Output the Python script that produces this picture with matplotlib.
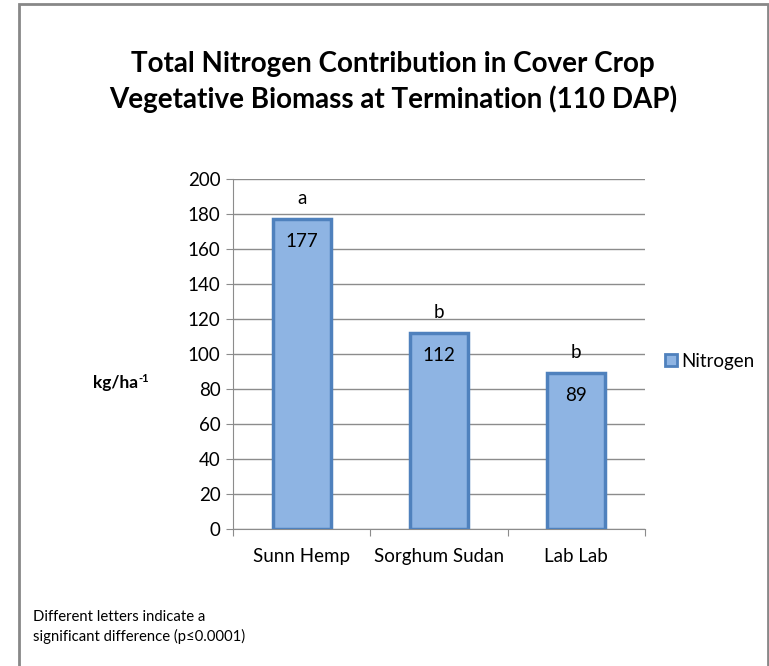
import matplotlib
matplotlib.use("Agg")
import matplotlib.pyplot as plt
from matplotlib.patches import Rectangle
from matplotlib.lines import Line2D

categories = ["Sunn Hemp", "Sorghum Sudan", "Lab Lab"]
nitrogen = [177, 112, 89]
letters = ["a", "b", "b"]
yticks = [0, 20, 40, 60, 80, 100, 120, 140, 160, 180, 200]

plt.rcParams['font.family'] = ['Lato', 'DejaVu Sans']

W, H = 769, 666
fig = plt.figure(figsize=(W/100, H/100), dpi=100)

# outer border
fig.add_artist(Rectangle((18.5/W, -0.01), (767.5-18.5)/W, (H-3.5)/H + 0.01,
                         transform=fig.transFigure, fill=False,
                         edgecolor='#888888', linewidth=2))

FS = 13.5
ax = fig.add_axes([233/W, 1-529/H, (645-233)/W, (529-179)/H])
x = list(range(len(categories)))
bars = ax.bar(x, nitrogen, width=0.42, color='#8EB4E3', edgecolor='#4F81BD',
              linewidth=2.5, zorder=3, label='Nitrogen')
ax.set_xlim(-0.5, 2.5)
ax.set_ylim(0, 200)
ax.set_yticks(yticks)
ax.set_yticklabels([str(v) for v in yticks], fontsize=FS)
ax.yaxis.grid(True, color='#8c8c8c', linewidth=1, zorder=0)
ax.set_axisbelow(True)
for s in ['top', 'right']:
    ax.spines[s].set_visible(False)
ax.spines['left'].set_color('#8c8c8c')
ax.spines['bottom'].set_color('#8c8c8c')
ax.tick_params(axis='y', length=5, color='#8c8c8c', pad=4)
ax.set_xticks([-0.5, 0.5, 1.5, 2.5])
ax.set_xticklabels([])
ax.set_xticks(x, minor=True)
ax.set_xticklabels(categories, minor=True, fontsize=FS)
ax.tick_params(axis='x', which='major', length=5, color='#8c8c8c')
ax.tick_params(axis='x', which='minor', length=0, pad=14)

for xi, v, l in zip(x, nitrogen, letters):
    ax.annotate(str(v), (xi, v), xytext=(0, -16), textcoords='offset points',
                ha='center', va='center', fontsize=FS)
    ax.annotate(l, (xi, v), xytext=(0, 15), textcoords='offset points',
                ha='center', va='center', fontsize=FS)

fig.text(393/W, 1-82/H, "Total Nitrogen Contribution in Cover Crop\nVegetative Biomass at Termination (110 DAP)",
         ha='center', va='center', fontsize=20, fontweight='bold', linespacing=1.35)

fig.text(93/W, 1-383/H, "kg/ha", ha='left', va='center', fontsize=12.5, fontweight='bold')
fig.text(138/W, 1-378/H, "-1", ha='left', va='center', fontsize=8, fontweight='bold')

handle = Line2D([], [], marker='s', linestyle='none', markersize=9,
                markerfacecolor='#8EB4E3', markeredgecolor='#4F81BD', markeredgewidth=2)
fig.legend([handle], ['Nitrogen'], loc='center left', bbox_to_anchor=(662/W, 1-361/H),
           frameon=False, fontsize=FS, handletextpad=0.05, handlelength=1.0,
           borderpad=0, borderaxespad=0)

fig.text(33/W, 1-627/H, "Different letters indicate a\nsignificant difference (p\u22640.0001)",
         ha='left', va='center', fontsize=10.7, linespacing=1.45)

fig.savefig("out.png", dpi=100)
